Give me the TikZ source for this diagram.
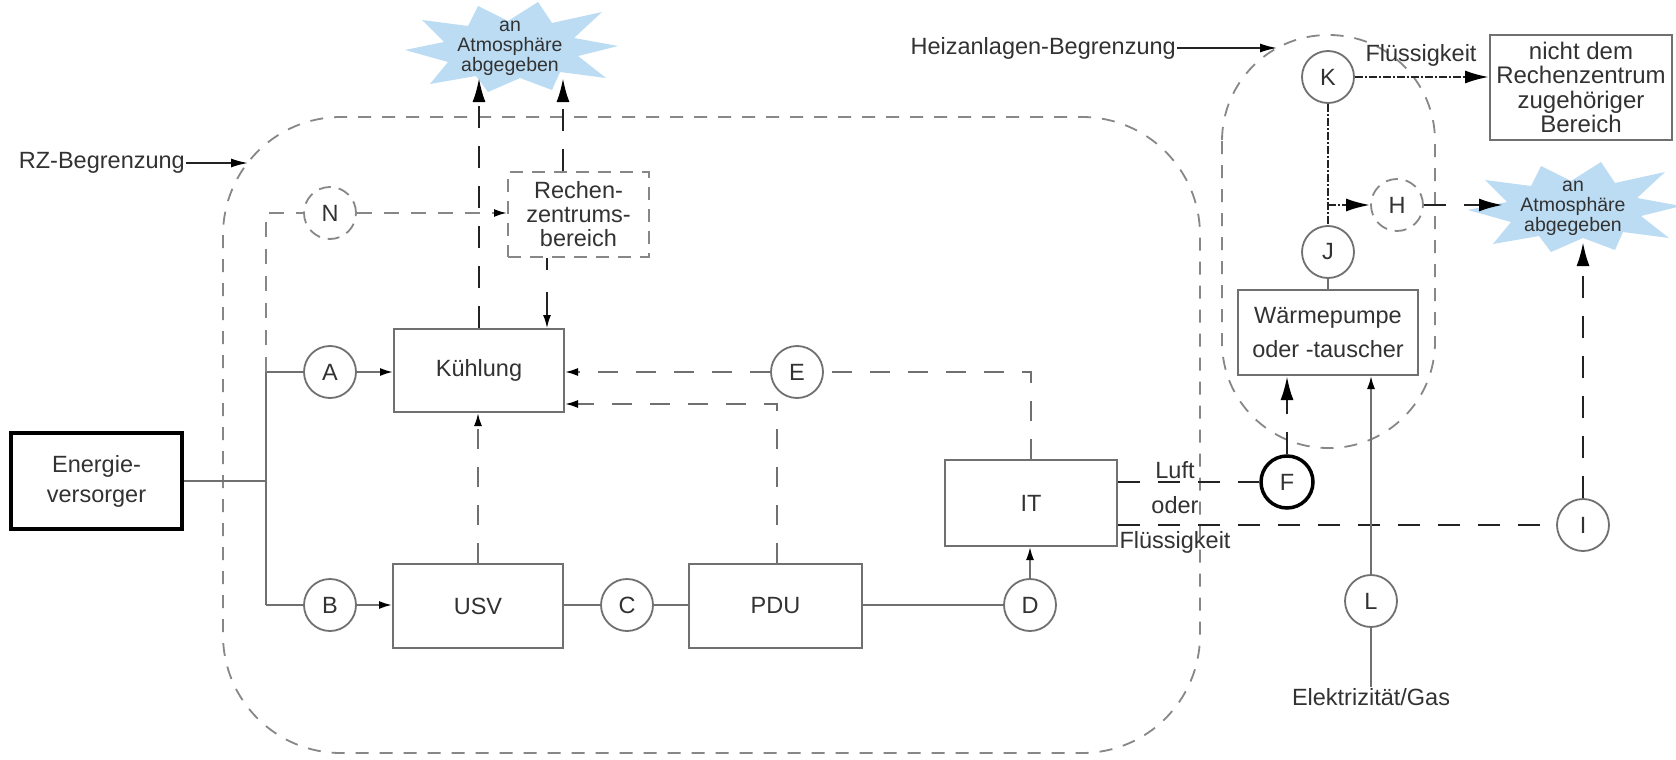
\documentclass[tikz,border=0pt]{standalone}
\usepackage{fontspec}
\setmainfont{Liberation Sans}
\usetikzlibrary{arrows.meta}
\definecolor{ln}{RGB}{112,112,112}
\definecolor{dk}{RGB}{35,35,35}
\definecolor{sky}{RGB}{188,220,243}
\definecolor{txt}{RGB}{50,50,50}
\definecolor{bd}{RGB}{135,135,135}
\tikzset{
  burst/.pic={
    \fill[sky] (-105,2) -- (-66,-6) -- (-88,-28) -- (-42,-22) -- (-32,-42) -- (-2,-27)
      -- (28,-46) -- (42,-25) -- (92,-36) -- (64,-10) -- (108,-2) -- (68,8) -- (96,30)
      -- (50,24) -- (42,42) -- (10,30) -- (-22,44) -- (-34,28) -- (-80,36) -- (-62,14) -- cycle;
  }
}
\begin{document}
\begin{tikzpicture}[x=1pt,y=-1pt,
  every node/.style={text=txt, font=\fontsize{23.5}{26}\selectfont},
  box/.style={draw=ln, line width=2pt, inner sep=0pt, align=center},
  pt/.style={draw=ln, line width=1.8pt, circle, minimum size=52pt, inner sep=0pt, fill=white},
  lbl/.style={inner sep=1pt},
  conn/.style={draw=ln, line width=1.8pt},
  thinline/.style={draw=dk, line width=1.6pt},
  gdash/.style={draw=ln, line width=2pt, dash pattern=on 20pt off 18pt},
  ndash/.style={draw=bd, line width=2pt, dash pattern=on 15pt off 12pt},
  heat/.style={draw=dk, line width=2.6pt, dash pattern=on 22pt off 18pt},
  bound/.style={draw=bd, line width=1.8pt, dash pattern=on 13pt off 11pt},
  dd/.style={draw=dk, line width=2.4pt, dash pattern=on 8pt off 2pt on 2pt off 2pt},
  smalltip/.style={-{Latex[length=13pt,width=8pt,color=black]}},
  medtip/.style={-{Latex[length=17pt,width=9pt,color=black]}},
  bigtip/.style={-{Latex[length=24pt,width=13pt,color=black]}},
]
\useasboundingbox (0,0) rectangle (1676,760);
\fill[white] (0,0) rectangle (1676,760);

% boundaries
\draw[bound, rounded corners=118pt] (223,117) rectangle (1200,753);
\draw[bound, rounded corners=106pt] (1222,35) rectangle (1435,448);

% clouds
\pic at (510,48) {burst};
\pic at (1573,208) {burst};
\node[align=center, font=\fontsize{19.5}{20}\selectfont] (atm1) at (510,48) {an\\Atmosphäre\\abgegeben};
\node[align=center, font=\fontsize{19.5}{20}\selectfont] (atm2) at (1573,208) {an\\Atmosphäre\\abgegeben};

% boxes
\node[box, line width=4pt, draw=black, minimum width=171pt, minimum height=96pt, font=\fontsize{23.5}{30}\selectfont] (EV) at (96.5,481) {Energie-\\versorger};
\node[box, minimum width=170pt, minimum height=83pt] (KU) at (479,370.5) {Kühlung};
\node[box, minimum width=170pt, minimum height=84pt] (USV) at (478,606) {USV};
\node[box, minimum width=173pt, minimum height=84pt] (PDU) at (775.5,606) {PDU};
\node[box, minimum width=172pt, minimum height=86pt] (IT) at (1031,503) {IT};
\node[box, draw=bd, dash pattern=on 13pt off 9pt, minimum width=141pt, minimum height=85pt, font=\fontsize{23.5}{24}\selectfont] (RZB) at (578.5,214.5) {Rechen-\\zentrums-\\bereich};
\node[box, minimum width=180pt, minimum height=85pt, font=\fontsize{23.5}{34}\selectfont] (WP) at (1328,332.5) {Wärmepumpe\\oder -tauscher};
\node[box, minimum width=182pt, minimum height=105pt, font=\fontsize{24}{24.5}\selectfont] (NB) at (1581,87.5) {nicht dem\\Rechenzentrum\\zugehöriger\\Bereich};

% circles
\node[pt, draw=bd, dash pattern=on 12pt off 8pt] (N) at (330,213) {N};
\node[pt] (A) at (330,372) {A};
\node[pt] (B) at (330,605) {B};
\node[pt] (C) at (627,605) {C};
\node[pt] (D) at (1030,605) {D};
\node[pt] (E) at (797,372) {E};
\node[pt, draw=black, line width=3.5pt] (F) at (1287,482) {F};
\node[pt, draw=bd, dash pattern=on 12pt off 8pt] (H) at (1397,205) {H};
\node[pt] (I) at (1583,525) {I};
\node[pt] (J) at (1328,252) {J};
\node[pt] (K) at (1328,77) {K};
\node[pt] (L) at (1371,601) {L};

% free labels
\node[lbl, anchor=east] (rzl) at (186,163) {RZ-Begrenzung};
\node[lbl, anchor=east] (hzl) at (1177,48) {Heizanlagen-Begrenzung};
\coordinate (rzp) at (248,163);
\coordinate (hzp) at (1277,48);
\draw[thinline, medtip] (rzl.east) -- (rzp);
\draw[thinline, medtip] (hzl.east) -- (hzp);
\node[lbl] (fl) at (1421,55) {Flüssigkeit};
\node[lbl, align=center, font=\fontsize{23.5}{35}\selectfont] (lof) at (1175,507) {Luft\\oder\\Flüssigkeit};
\node[lbl] (eg) at (1371,697) {Elektrizität/Gas};

% power connections
\coordinate (bt) at (266,372);
\coordinate (bb) at (266,605);
\coordinate (nt) at (266,213);
\draw[conn] (EV.east) -- (EV.east -| bt);
\draw[conn] (bt) -- (bb);
\draw[conn] (bt) -- (A.west);
\draw[conn] (bb) -- (B.west);
\draw[conn, smalltip] (A.east) -- (A.east -| KU.west);
\draw[conn, smalltip] (B.east) -- (B.east -| USV.west);
\draw[conn] (C.west -| USV.east) -- (C.west);
\draw[conn] (C.east) -- (C.east -| PDU.west);
\draw[conn] (D.west -| PDU.east) -- (D.west);
\draw[conn, smalltip] (D.north) -- (D.north |- IT.south);

% N path
\draw[ndash] (bt) -- (nt) -- (N.west);
\draw[ndash, smalltip] (N.east) -- (N.east -| RZB.west);

% heat to atmosphere
\coordinate (a1) at (479,78);
\coordinate (a2) at (563,78);
\draw[heat, bigtip] (KU.north) -- (a1);
\draw[heat, bigtip] (a2 |- RZB.north) -- (a2);

% RZB to cooling
\coordinate (rk) at (547,0);
\draw[thinline, dash pattern=on 12pt off 22pt on 60pt off 4pt, smalltip] (rk |- RZB.south) -- (rk |- KU.north);

% heat loads to cooling
\draw[gdash] (IT.north) -- (IT.north |- E.east) -- (E.east);
\draw[gdash, smalltip] (E.west) -- (E.west -| KU.east);
\coordinate (q) at (777,404);
\draw[gdash, smalltip] (q |- PDU.north) -- (q) -- (q -| KU.east);
\draw[gdash, smalltip] (USV.north) -- (USV.north |- KU.south);

% IT outputs
\draw[heat] (F.west -| IT.east) -- (F.west);
\draw[heat] (I.west -| IT.east) -- (I.west);
\draw[heat, bigtip] (F.north) -- (F.north |- WP.south);

% heating plant
\draw[conn, smalltip] (L.north) -- (L.north |- WP.south);
\draw[conn] (L.south) -- (eg.north);
\draw[conn] (J.south) -- (J.south |- WP.north);
\draw[dd] (K.south) -- (J.north);
\coordinate (br) at (1328,205);
\draw[dd, bigtip] (br) -- (H.west);
\draw[dd, bigtip] (K.east) -- (K.east -| NB.west);
\coordinate (c2l) at (1503,205);
\draw[heat, bigtip] (H.east) -- (c2l);
\coordinate (c2b) at (1583,242);
\draw[heat, bigtip] (I.north) -- (I.north |- c2b);
\end{tikzpicture}
\end{document}
